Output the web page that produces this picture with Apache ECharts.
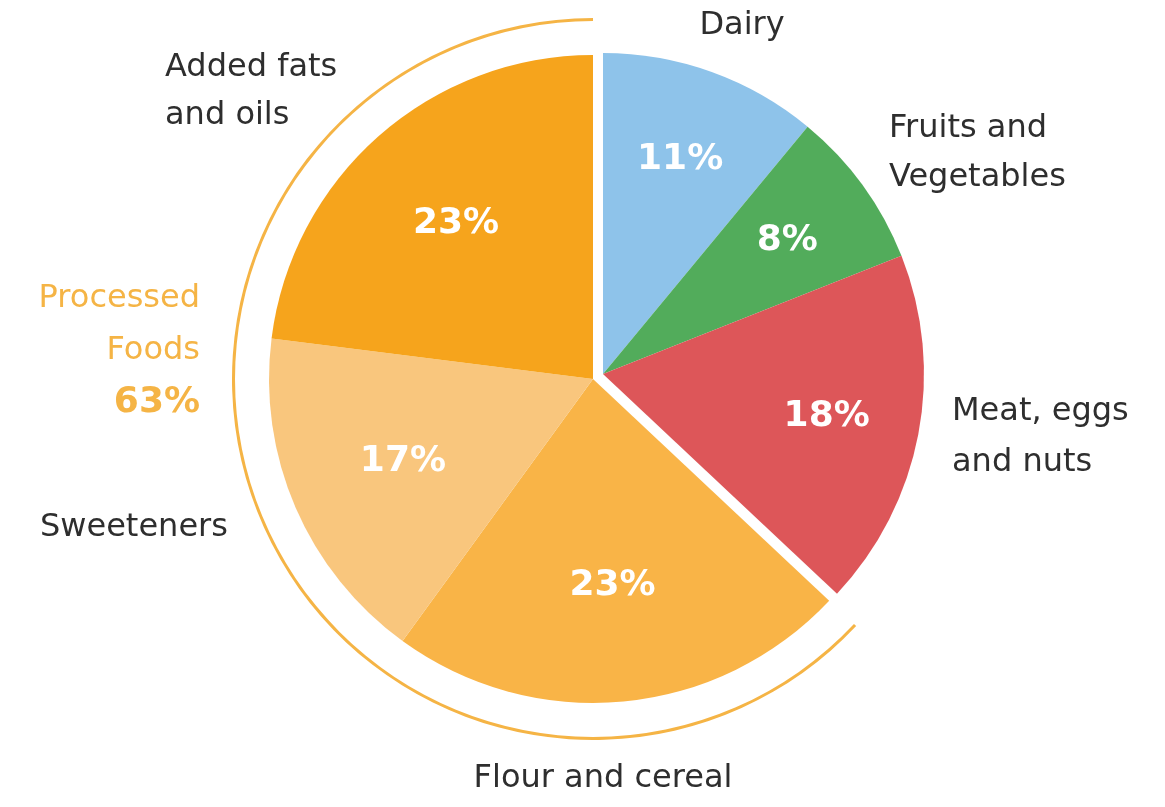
<!DOCTYPE html>
<html>
<head>
<meta charset="utf-8">
<script src="https://cdn.jsdelivr.net/npm/echarts@6/dist/echarts.min.js"></script>
<style>
  html, body { margin: 0; padding: 0; background: #ffffff; }
  #chart { width: 1165px; height: 807px; }
</style>
</head>
<body>
<div id="chart"></div>
<script>
// Share of food spending by category (percent), clockwise from 12 o'clock
const categories = ['Dairy', 'Fruits and\nVegetables', 'Meat, eggs\nand nuts', 'Flour and cereal', 'Sweeteners', 'Added fats\nand oils'];
const shares = [11, 8, 18, 23, 17, 23];
const processed = [false, false, false, true, true, true];
const colors = ['#8EC3EA', '#52AC5B', '#DD5659', '#F9B447', '#F9C67D', '#F6A41C'];
const groupName = 'Processed\nFoods';

// Layout
const R = 324;
const R_OTHER = 321;
const centerProcessed = [593, 379];
const centerOther = [603, 374];
const FONT = '"DejaVu Sans", Verdana, sans-serif';
const TEXT = '#2e2e2e';
const ORANGE = '#F5B445';
const NAME_FONT = '32px ' + FONT;

const processedTotal = shares.reduce((s, v, i) => s + (processed[i] ? v : 0), 0);
const otherTotal = shares.reduce((s, v, i) => s + (processed[i] ? 0 : v), 0);

function groupData(inGroup, withLabels) {
  return categories.map((name, i) => {
    const show = processed[i] === inGroup;
    return {
      name: name,
      value: shares[i],
      itemStyle: { color: show && !withLabels ? colors[i] : 'rgba(0,0,0,0)' },
      label: { show: show && withLabels }
    };
  });
}

const pieBase = {
  type: 'pie',
  startAngle: 90,
  clockwise: true,
  silent: true,
  animation: false,
  avoidLabelOverlap: false,
  labelLine: { show: false },
  emphasis: { disabled: true }
};

const insideLabel = {
  position: 'inside',
  formatter: '{c}%',
  color: '#ffffff',
  fontFamily: FONT,
  fontWeight: 'bold',
  fontSize: 36
};

const chart = echarts.init(document.getElementById('chart'), null, { renderer: 'canvas' });

chart.setOption({
  backgroundColor: '#ffffff',
  series: [
    // processed slices
    Object.assign({}, pieBase, {
      center: centerProcessed, radius: [0, R],
      label: { show: false },
      data: groupData(true, false)
    }),
    // remaining slices, nudged out from the processed group
    Object.assign({}, pieBase, {
      center: centerOther, radius: [0, R_OTHER],
      label: { show: false },
      data: groupData(false, false)
    }),
    // percentage labels
    Object.assign({}, pieBase, {
      center: centerProcessed, radius: [R * 0.26, R],
      label: insideLabel,
      data: groupData(true, true)
    }),
    Object.assign({}, pieBase, {
      center: centerOther, radius: [R_OTHER * 0.4, R_OTHER],
      label: insideLabel,
      data: groupData(false, true)
    }),
    // bracket arc around the processed group
    Object.assign({}, pieBase, {
      center: centerProcessed, radius: [R + 34, R + 37],
      label: { show: false },
      data: [
        { value: otherTotal, itemStyle: { color: 'rgba(0,0,0,0)' } },
        { value: processedTotal, itemStyle: { color: ORANGE } }
      ]
    })
  ],
  graphic: [
    { type: 'text', x: 742, y: 26, style: { text: categories[0], font: NAME_FONT, fill: TEXT, textAlign: 'center', textVerticalAlign: 'middle' } },
    { type: 'text', x: 889, y: 153, style: { text: categories[1], font: NAME_FONT, fill: TEXT, textAlign: 'left', textVerticalAlign: 'middle', lineHeight: 49 } },
    { type: 'text', x: 952, y: 437, style: { text: categories[2], font: NAME_FONT, fill: TEXT, textAlign: 'left', textVerticalAlign: 'middle', lineHeight: 51 } },
    { type: 'text', x: 603, y: 779, style: { text: categories[3], font: NAME_FONT, fill: TEXT, textAlign: 'center', textVerticalAlign: 'middle' } },
    { type: 'text', x: 40, y: 528, style: { text: categories[4], font: NAME_FONT, fill: TEXT, textAlign: 'left', textVerticalAlign: 'middle' } },
    { type: 'text', x: 165, y: 92, style: { text: categories[5], font: NAME_FONT, fill: TEXT, textAlign: 'left', textVerticalAlign: 'middle', lineHeight: 48 } },
    { type: 'text', x: 200, y: 351, style: {
        text: '{n|' + groupName.split('\n').join('}\n{n|') + '}\n{p|' + processedTotal + '%}',
        textAlign: 'right', textVerticalAlign: 'middle',
        rich: {
          n: { font: NAME_FONT, fill: ORANGE, lineHeight: 52, align: 'right' },
          p: { font: 'bold 36px ' + FONT, fill: ORANGE, lineHeight: 52, align: 'right' }
        }
      } }
  ]
});
</script>
</body>
</html>
